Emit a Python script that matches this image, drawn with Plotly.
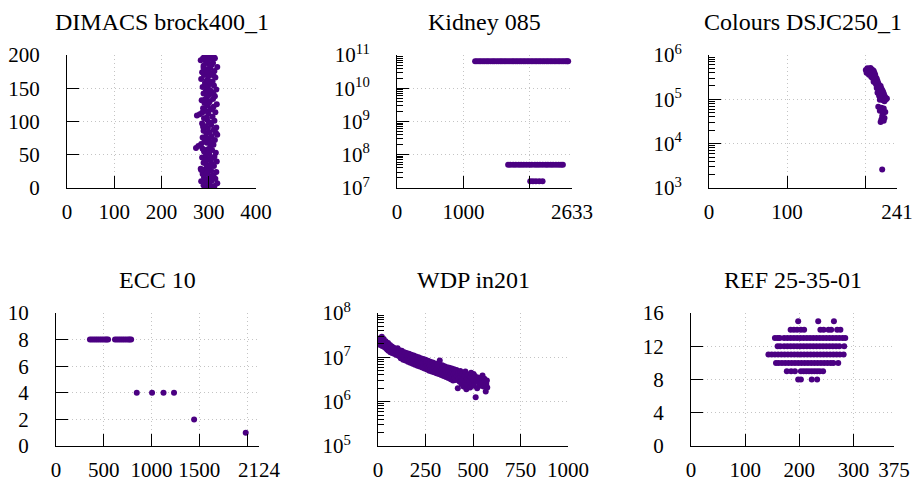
import plotly.graph_objects as go

W, H = 915, 481
PURPLE = "rgb(75,0,130)"
FONT = "'Liberation Serif', 'Times New Roman', 'DejaVu Serif', serif"

# ---------------- DATA ----------------
# DIMACS brock400_1
dim_x = [296, 305, 289, 312, 300, 293, 318, 284, 306, 299, 314, 290, 302, 310, 287, 297, 316, 305, 292, 283,
         300, 311, 295, 306, 289, 317, 298, 304, 286, 312, 294, 301, 315, 290, 307, 297, 273, 278, 284, 303,
         310, 296, 291, 313, 300, 287, 306, 318, 295, 302, 289, 311, 298, 316, 293, 305, 286, 300, 312, 296,
         290, 308, 275, 281, 299, 314, 293, 304, 288, 310, 297, 317, 291, 302, 285, 309, 296, 313, 300, 289,
         306, 294, 316, 298, 287, 311, 301, 292, 308, 296, 284, 314, 299, 290, 305, 286, 312, 295, 303, 318,
         289, 300, 309, 294, 283, 305, 298, 291, 313, 302,
         302, 291, 308, 296, 284, 303, 292, 309, 299, 287, 305, 294, 315, 288, 303, 296, 286, 307, 299, 292,
         310, 303, 293, 300, 310, 297, 289, 306, 297, 310, 288]
dim_y = [1, 2, 4, 3, 6, 8, 7, 10, 11, 13, 14, 16, 18, 19, 21, 23, 24, 26, 28, 29,
         31, 33, 35, 37, 38, 40, 42, 44, 46, 47, 49, 51, 53, 55, 57, 58, 60, 63, 66, 62,
         65, 68, 70, 72, 74, 76, 78, 80, 82, 84, 86, 88, 90, 91, 93, 95, 97, 99, 101, 103,
         105, 107, 109, 111, 112, 114, 116, 118, 120, 122, 124, 126, 128, 130, 132, 134, 136, 138, 140, 142,
         144, 146, 148, 150, 152, 154, 156, 158, 160, 162, 164, 166, 168, 170, 172, 174, 176, 178, 180, 182,
         184, 186, 188, 190, 192, 194, 196, 197, 195, 198,
         5, 12, 17, 22, 27, 34, 41, 45, 52, 59, 69, 75, 83, 92, 98, 106, 113, 119, 127, 133,
         141, 147, 153, 161, 169, 175, 181, 185, 191, 198, 195]

# Kidney 085 (three horizontal rows)
kid_row_y = [6.5e10, 5.0e7, 1.6e7]
kid_row1_x = [1175, 1203, 1234, 1261, 1292, 1320, 1351, 1377, 1409, 1440, 1465, 1497, 1526, 1556, 1582, 1613,
              1640, 1671, 1699, 1730, 1756, 1787, 1814, 1845, 1871, 1902, 1929, 1961, 1987, 2018, 2045, 2076,
              2103, 2134, 2160, 2191, 2218, 2249, 2276, 2307, 2334, 2365, 2392, 2423, 2450, 2481, 2508, 2537,
              2560, 2575]
kid_row2_x = [1672, 1705, 1748, 1788, 1831, 1868, 1907, 1948, 1991, 2028, 2074, 2112, 2151, 2193, 2236, 2271,
              2312, 2349, 2391, 2432, 2468, 2496]
kid_row3_x = [2005, 2045, 2090, 2140, 2190]

# Colours DSJC250_1
col_x = [201, 203, 205, 207, 209, 211, 202, 204, 206, 208, 210, 212, 205, 207, 209, 211, 213, 214, 208, 210,
         212, 215, 216, 211, 213, 217, 214, 218, 216, 219, 220, 215, 217, 221, 222, 218, 220, 223, 224, 219,
         221, 225, 226, 222, 224, 227, 216, 218, 220, 223, 219, 225, 228, 217, 221, 224, 219, 226, 223, 222,
         225, 221, 220, 224, 222]
col_y = [4.6e5, 5.0e5, 4.9e5, 5.1e5, 4.7e5, 4.4e5, 4.0e5, 4.2e5, 4.5e5, 4.1e5, 3.9e5, 4.0e5, 3.6e5, 3.8e5,
         3.5e5, 3.3e5, 3.6e5, 3.1e5, 3.2e5, 3.0e5, 2.8e5, 2.9e5, 2.6e5, 2.5e5, 2.4e5, 2.3e5, 2.2e5, 2.1e5,
         1.95e5, 1.9e5, 2.0e5, 1.8e5, 1.7e5, 1.75e5, 1.6e5, 1.55e5, 1.45e5, 1.5e5, 1.35e5, 1.3e5, 1.25e5,
         1.2e5, 1.1e5, 1.15e5, 1.05e5, 1.0e5, 1.4e5, 1.2e5, 1.05e5, 9.5e4, 9.8e4, 9.0e4, 1.05e5, 6.8e4, 6.5e4,
         6.2e4, 5.5e4, 5.2e4, 4.8e4, 4.2e4, 3.8e4, 3.5e4, 3.1e4, 3.3e4, 2.6e3]

# ECC 10
ecc_x = [355, 375, 395, 415, 435, 455, 475, 495, 515, 530, 545,
         617, 637, 657, 677, 697, 717, 737, 757, 772, 786,
         845, 1005, 1125, 1235, 1445, 1985]
ecc_y = [8, 8, 8, 8, 8, 8, 8, 8, 8, 8, 8,
         8, 8, 8, 8, 8, 8, 8, 8, 8, 8,
         4, 4, 4, 4, 2, 1]

# WDP in201
wdp_x = [5, 8, 10, 12, 15, 18, 20, 22, 25, 28, 30, 33, 35, 38, 40, 42, 45, 48, 50, 53, 55, 58, 60, 63, 65,
         68, 70, 73, 75, 78, 80, 83, 85, 88, 90, 93, 95, 98, 100, 103, 105, 108, 110, 113, 115, 118, 120,
         123, 125, 128, 130, 133, 135, 138, 140, 143, 145, 148, 150, 153, 155, 158, 160, 163, 165, 168, 170,
         173, 175, 178, 180, 183, 185, 188, 190, 193, 195, 198, 200, 203, 205, 208, 210, 213, 215, 218, 220,
         223, 225, 228, 230, 233, 235, 238, 240, 243, 245, 248, 250, 253, 255, 258, 260, 263, 265, 268, 270,
         273, 275, 278, 280, 283, 285, 288, 290, 293, 295, 298, 300, 303, 305, 308, 310, 313, 315, 318, 320,
         323, 325, 328, 330, 333, 335, 338, 340, 343, 345, 348, 350, 353, 355, 358, 360, 363, 365, 368, 370,
         373, 375, 378, 380, 383, 385, 388, 390, 393, 395, 398, 400, 403, 405, 410, 413, 415, 420, 423, 425,
         430, 433, 435, 440, 443, 445, 450, 455, 458, 460, 465, 468, 470, 475, 480, 485, 488, 490, 495, 500,
         503, 505, 510, 514, 518, 522, 526, 530, 535, 540, 545, 550, 555, 560, 563, 567, 570, 573, 575]
wdp_y = [2.4e7, 2.1e7, 2.7e7, 1.9e7, 2.5e7, 2.2e7, 2.9e7, 1.8e7, 2.4e7, 2.0e7, 2.6e7, 1.7e7, 2.2e7, 1.9e7,
         2.3e7, 1.6e7, 2.0e7, 1.5e7, 1.8e7, 2.1e7, 1.4e7, 1.7e7, 1.55e7, 1.9e7, 1.3e7, 1.6e7, 1.45e7, 1.75e7,
         1.25e7, 1.5e7, 1.35e7, 1.65e7, 1.2e7, 1.45e7, 1.3e7, 1.55e7, 1.15e7, 1.4e7, 1.25e7, 1.6e7, 1.1e7,
         1.35e7, 1.2e7, 1.45e7, 1.05e7, 1.3e7, 9.5e6, 1.15e7, 1.4e7, 1.0e7, 1.25e7, 8.8e6, 1.1e7, 1.3e7,
         9.8e6, 1.2e7, 8.5e6, 1.05e7, 1.25e7, 9.2e6, 1.1e7, 7.9e6, 1.0e7, 1.2e7, 8.8e6, 1.05e7, 7.5e6, 9.5e6,
         1.15e7, 8.2e6, 1.0e7, 7.2e6, 9.0e6, 1.1e7, 7.8e6, 9.6e6, 6.8e6, 8.6e6, 1.05e7, 7.4e6, 9.2e6, 6.5e6,
         8.2e6, 1.0e7, 7.0e6, 8.8e6, 6.2e6, 7.8e6, 9.5e6, 6.7e6, 8.4e6, 5.9e6, 7.4e6, 9.2e6, 6.4e6, 8.0e6,
         5.6e6, 7.0e6, 8.8e6, 6.1e6, 7.6e6, 5.3e6, 6.7e6, 8.4e6, 5.8e6, 7.2e6, 5.0e6, 6.4e6, 8.0e6, 5.5e6,
         6.9e6, 4.8e6, 6.1e6, 7.6e6, 5.2e6, 6.6e6, 4.6e6, 5.8e6, 7.3e6, 5.0e6, 6.3e6, 4.4e6, 5.5e6, 7.0e6,
         4.8e6, 6.0e6, 4.2e6, 5.3e6, 8.5e6, 4.6e6, 5.8e6, 4.0e6, 5.1e6, 6.6e6, 4.4e6, 5.5e6, 3.8e6, 4.9e6,
         6.3e6, 4.2e6, 5.3e6, 3.6e6, 4.7e6, 6.0e6, 4.0e6, 5.1e6, 3.4e6, 4.5e6, 5.8e6, 3.8e6, 4.9e6, 3.2e6,
         4.3e6, 5.6e6, 3.6e6, 4.7e6, 3.0e6, 4.1e6, 5.4e6, 3.4e6, 4.5e6, 3.1e6, 5.2e6, 3.8e6, 2.0e6, 4.4e6,
         3.3e6, 2.8e6, 4.9e6, 3.6e6, 2.5e6, 4.2e6, 3.1e6, 2.2e6, 3.8e6, 2.7e6, 4.8e6, 1.9e6, 3.3e6, 2.4e6,
         4.1e6, 2.9e6, 2.1e6, 3.6e6, 4.5e6, 2.6e6, 3.2e6, 4.2e6, 2.3e6, 3.8e6, 1.25e6, 2.9e6, 2.0e6, 3.5e6,
         2.7e6, 2.3e6, 3.2e6, 2.6e6, 3.9e6, 2.2e6, 3.3e6, 2.8e6, 1.7e6, 2.5e6, 3.0e6, 2.1e6]

# REF 25-35-01 (rows at integer y)
ref_rows = {
    15: [198, 235, 264],
    14: [184, 190, 196, 203, 209, 239, 245, 254, 259, 270, 276],
    13: [155, 160, 164, 172, 178, 184, 190, 196, 202, 208, 214, 220, 226, 232, 238, 244, 250, 256, 262, 268,
         274, 280, 285],
    12: [160, 165, 172, 178, 184, 190, 196, 202, 208, 214, 220, 226, 232, 238, 244, 250, 256, 262, 268, 274,
         283],
    11: [143, 149, 155, 161, 167, 173, 179, 185, 191, 197, 203, 209, 215, 221, 227, 233, 239, 245, 251, 257,
         263, 269, 275, 282],
    10: [157, 162, 168, 174, 180, 186, 192, 198, 204, 210, 216, 222, 228, 234, 240, 246, 252, 258, 263, 272],
    9: [177, 185, 192, 203, 208, 213, 218, 223, 228, 233, 238, 244],
    8: [198, 203, 223, 233],
}

titles = ["DIMACS brock400_1", "Kidney 085", "Colours DSJC250_1", "ECC 10", "WDP in201", "REF 25-35-01"]

# tick definitions
x_ticks = [
    ([0, 100, 200, 300, 400], ["0", "100", "200", "300", "400"]),
    ([0, 1000, 2000, 2633], ["0", "1000", "", "2633"]),
    ([0, 100, 200, 241], ["0", "100", "", "241"]),
    ([0, 500, 1000, 1500, 2000, 2124], ["0", "500", "1000", "1500", "", "2124"]),
    ([0, 250, 500, 750, 1000], ["0", "250", "500", "750", "1000"]),
    ([0, 100, 200, 300, 375], ["0", "100", "200", "300", "375"]),
]
x_ranges = [[0, 400], [0, 2633], [0, 241], [0, 2124], [0, 1000], [0, 375]]
y_lin_ticks = {1: [0, 50, 100, 150, 200], 4: [0, 2, 4, 6, 8, 10], 6: [0, 4, 8, 12, 16]}
y_lin_ranges = {1: [0, 200], 4: [0, 10], 6: [0, 16]}
y_log_exps = {2: [7, 8, 9, 10, 11], 3: [3, 4, 5, 6], 5: [5, 6, 7, 8]}

# ---------------- LAYOUT (pixel boxes) ----------------
boxes = [(67, 256, 55, 188), (397, 572, 55, 188), (709, 897, 55, 188),
         (56, 259, 313, 446), (378, 568, 313, 446), (691, 894, 313, 446)]

fig = go.Figure()
mk = dict(color=PURPLE, size=6, line=dict(width=0))

def add(x, y, i):
    fig.add_trace(go.Scatter(x=x, y=y, mode="markers", marker=mk, showlegend=False, hoverinfo="skip",
                             xaxis="x" if i == 1 else f"x{i}", yaxis="y" if i == 1 else f"y{i}"))

add(dim_x, dim_y, 1)
kx, ky = [], []
for xs, yv in zip([kid_row1_x, kid_row2_x, kid_row3_x], kid_row_y):
    kx += xs
    ky += [yv] * len(xs)
add(kx, ky, 2)
add(col_x, col_y, 3)
add(ecc_x, ecc_y, 4)
add(wdp_x, wdp_y, 5)
rx, ry = [], []
for yv, xs in ref_rows.items():
    rx += xs
    ry += [yv] * len(xs)
add(rx, ry, 6)

tickfont = dict(family=FONT, size=21, color="black")
common = dict(showline=True, linecolor="black", linewidth=1, ticks="inside", ticklen=12, tickwidth=1,
              tickcolor="black", showgrid=True, gridcolor="#c4c4c4", griddash="1px,3px", gridwidth=1,
              zeroline=False, tickfont=tickfont, fixedrange=True, automargin=False,
              ticklabeloverflow="allow")

layout = {}
annotations = []
for i, (l, r, t, b) in enumerate(boxes, start=1):
    xd = [l / W, r / W]
    yd = [1 - b / H, 1 - t / H]
    xk = "xaxis" if i == 1 else f"xaxis{i}"
    yk = "yaxis" if i == 1 else f"yaxis{i}"
    xa = "x" if i == 1 else f"x{i}"
    ya = "y" if i == 1 else f"y{i}"
    tv, tt = x_ticks[i - 1]
    layout[xk] = dict(domain=xd, anchor=ya, range=x_ranges[i - 1], tickmode="array", tickvals=tv,
                      ticktext=tt, ticklabelstandoff=5, **common)
    if i in y_lin_ticks:
        yv = y_lin_ticks[i]
        layout[yk] = dict(domain=yd, anchor=xa, range=y_lin_ranges[i], tickmode="array", tickvals=yv,
                          ticktext=[str(v) for v in yv], ticklabelstandoff=22, **common)
    else:
        ex = y_log_exps[i]
        minor_vals = [m * 10 ** e for e in ex[:-1] for m in range(2, 10)]
        layout[yk] = dict(domain=yd, anchor=xa, type="log", range=[ex[0], ex[-1]], tickmode="array",
                          tickvals=[10 ** e for e in ex], ticktext=[f"10<sup>{e}</sup>" for e in ex],
                          ticklabelstandoff=22,
                          minor=dict(tickmode="array", tickvals=minor_vals, ticks="inside", ticklen=6,
                                     tickwidth=1, tickcolor="black", showgrid=False),
                          **common)
    annotations.append(dict(text=titles[i - 1], x=(l + r) / 2 / W, y=1 - (t - 33) / H, xref="paper",
                            yref="paper", xanchor="center", yanchor="middle", showarrow=False,
                            font=dict(family=FONT, size=24, color="black")))

fig.update_layout(width=W, height=H, margin=dict(l=0, r=0, t=0, b=0, autoexpand=False),
                  paper_bgcolor="white", plot_bgcolor="white", annotations=annotations,
                  font=dict(family=FONT), hovermode=False, **layout)
fig.write_html("out.html", config={"displayModeBar": False, "staticPlot": True},
               post_script="document.body.style.margin='0';document.body.style.overflow='hidden';")
